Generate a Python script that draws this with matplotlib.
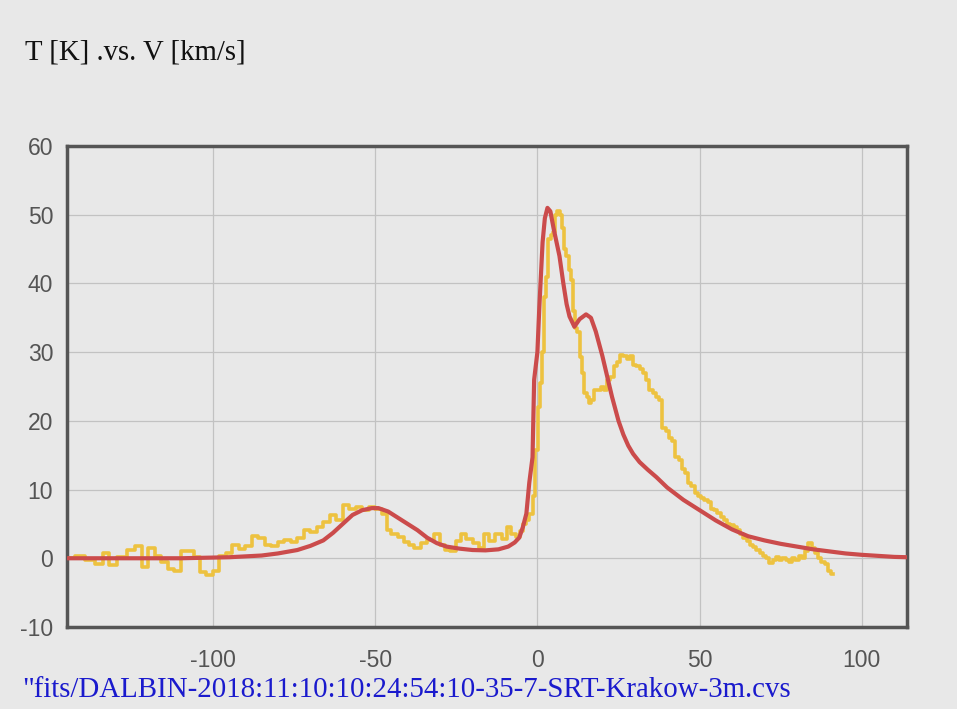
import numpy as np
import matplotlib.pyplot as plt
from matplotlib import font_manager

plt.rcParams['axes.unicode_minus'] = False

# Наблюдаемый спектр (ступенчатый) - скорость, температура
obs_v = [-144, -141, -138, -135, -133, -131, -128, -125, -123, -121, -119, -117, -115, -113, -111,
         -109, -107, -105, -103, -101, -99, -97, -95, -93, -91, -89, -87, -85, -83, -81, -79, -77,
         -75, -73, -71, -69, -67, -65, -63, -61, -59, -57, -55, -53, -51, -49, -47, -46, -44, -42,
         -40, -39, -37, -35, -33, -31, -29, -28, -26, -24, -23, -21, -19, -17, -16, -14, -12, -10,
         -9, -7, -6, -5, -4, -3, -2, -1, -0.3, 0.6, 1.2, 1.8, 2.4, 3.1, 3.7, 4.4, 5.1, 5.8, 6.5,
         7.2, 7.9, 8.6, 9.3, 10, 10.6, 11.3, 12, 12.7, 13.4, 14.1, 14.8, 15.5, 16.2, 17, 18, 19, 20,
         21, 22, 23, 24, 25, 26, 27, 28, 29, 30, 31, 32, 33, 34, 35, 36, 37, 38, 39, 40, 41, 42, 43,
         44, 45, 46, 47, 48, 49, 50, 51, 52, 53, 54, 55, 56, 57, 58, 59, 60, 61, 62, 63, 64, 65, 66,
         67, 68, 69, 70, 71, 72, 73, 74, 75, 76, 77, 78, 79, 80, 81, 82, 83, 84, 85, 86, 87, 88, 89,
         90, 91]
obs_t = [0, 0.3, -0.3, -0.8, 0.8, -1.0, 0.2, 1.2, 1.8, -1.2, 1.5, 0.3, -0.5, -1.6, -1.8,
         1.0, 1.0, 0.2, -2.0, -2.4, -1.8, 0.3, 0.8, 2.0, 1.4, 1.8, 3.2, 2.9, 1.9, 1.8, 2.4, 2.6,
         2.4, 3.0, 4.1, 3.8, 4.5, 5.3, 6.3, 5.6, 7.7, 7.2, 7.4, 7.0, 7.4, 7.2, 6.5, 4.1, 3.5, 3.1,
         2.4, 1.9, 1.5, 2.2, 2.6, 3.6, 2.0, 1.2, 1.0, 2.5, 3.6, 2.8, 2.2, 1.5, 3.6, 2.5, 3.6, 2.8,
         4.5, 3.6, 3.1, 4.0, 5.0, 5.5, 6.5, 9, 15.8, 22, 25.5, 30, 38, 41, 46.4, 47, 47.5, 50, 50.5,
         50, 48, 45, 44, 42, 40.5, 36, 33.5, 33, 29.3, 27, 24, 23.5, 22.6, 23, 24.5, 24.5, 25,
         24.5, 26, 26.4, 28, 28.5, 29.6, 29.5, 29, 29.5, 28.2, 28, 27.5, 27, 26, 24.5, 24, 23.5, 23, 19, 18.5, 17.5, 17, 14.7,
         14.3, 13, 12.4, 11, 10.5, 9.5, 9, 8.8, 8.5, 8.2, 7.2, 7, 6.6, 6, 5.5, 5, 4.8, 4.5, 4.1, 3.5, 3, 2.5, 2,
         1.6, 1.2, 0.8, 0.3, 0, -0.7, -0.3, 0.2, -0.2, 0, -0.3, -0.5, 0, -0.2, 0.3, 0, 1.0, 2.2, 1.5, 0.8, 0.1, -0.5, -0.8,
         -1.8, -2.3]

# Модельная кривая
fit_v = [-145, -110, -95, -85, -80, -74, -70, -66, -63, -60, -57, -54, -51, -49, -46, -43, -40, -37,
         -34, -31, -28, -24, -20, -16, -12, -9, -7, -5.6, -4.5, -3.4, -2.5, -1.5, -1, 0, 0.6, 1.6,
         2.3, 3.1, 4, 5, 6.8, 8, 9, 9.9, 11.4, 13, 15, 16.5, 18, 20, 23, 25, 26.5, 28, 29.5, 31.5,
         34, 36.7, 40, 45, 50, 55, 60, 65, 70, 75, 80, 85, 90, 95, 100, 105, 110, 114]
fit_t = [0, 0, 0.15, 0.4, 0.7, 1.2, 1.8, 2.6, 3.7, 5.0, 6.3, 7.0, 7.3, 7.3, 6.8, 5.9, 5.0, 4.1,
         3.0, 2.2, 1.7, 1.4, 1.2, 1.15, 1.3, 1.7, 2.3, 3.0, 4.5, 6.5, 11, 14.7, 26, 30, 36.6, 46,
         49.5, 51, 50.5, 48, 44, 40, 37, 35.2, 33.7, 34.8, 35.5, 35, 33, 29.5, 23.5, 20, 18, 16.4, 15.2, 14,
         12.9, 11.8, 10.3, 8.5, 7, 5.5, 4.2, 3.2, 2.6, 2.1, 1.7, 1.3, 1.0, 0.7, 0.5, 0.35, 0.2, 0.15]

xticks = [-100, -50, 0, 50, 100]
yticks = [-10, 0, 10, 20, 30, 40, 50, 60]

bg = '#e8e8e8'
names = {f.name for f in font_manager.fontManager.ttflist}
tickfont = 'Liberation Sans Narrow' if 'Liberation Sans Narrow' in names else 'Liberation Sans'

fig = plt.figure(figsize=(9.57, 7.09), dpi=100, facecolor=bg)
ax = fig.add_axes([0.070, 0.1157, 0.878, 0.6783])
ax.set_facecolor(bg)

ax.plot(obs_v, obs_t, drawstyle='steps-mid', color='#edc240', lw=2.6, zorder=3)
ax.plot(fit_v, fit_t, color='#cb4b4b', lw=3, zorder=4)

ax.set_xlim(-145, 114)
ax.set_ylim(-10, 60)
ax.set_xticks(xticks)
ax.set_yticks(yticks)
ax.grid(True, color='#c2c2c2', lw=0.9)
ax.set_axisbelow(True)
ax.tick_params(length=0, labelsize=16.5, labelcolor='#545454')
ax.tick_params(axis='x', pad=16)
ax.tick_params(axis='y', pad=10)
for lbl in ax.get_xticklabels() + ax.get_yticklabels():
    lbl.set_fontfamily(tickfont)
for s in ax.spines.values():
    s.set_color('#555555')
    s.set_linewidth(2.5)

fig.text(25 / 957, 1 - 52 / 709, 'T [K] .vs. V [km/s]', family='Liberation Serif',
         fontsize=20.7, color='#111111', va='center', ha='left')
fig.text(22 / 957, 1 - 690 / 709, '"fits/DALBIN-2018:11:10:10:24:54:10-35-7-SRT-Krakow-3m.cvs',
         family='Liberation Serif', fontsize=20.8, color='#1a1acd', va='center', ha='left')

fig.savefig('out.png', dpi=100, facecolor=bg)
